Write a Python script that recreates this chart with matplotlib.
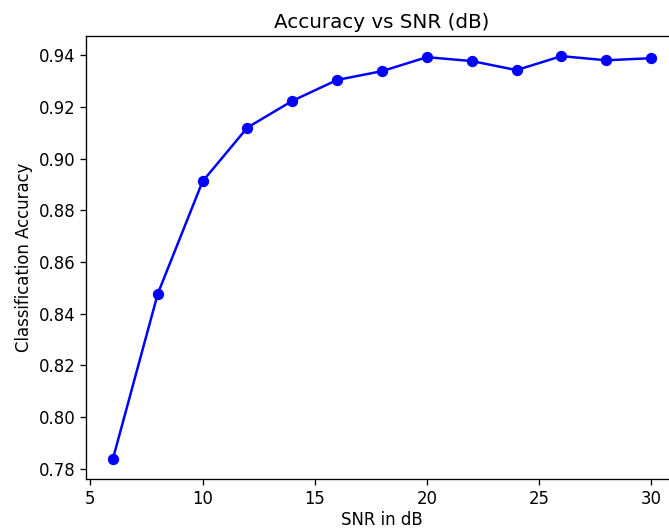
import matplotlib
matplotlib.use("Agg")
import matplotlib.pyplot as plt

snr = [6, 8, 10, 12, 14, 16, 18, 20, 22, 24, 26, 28, 30]
accuracy = [0.7839, 0.8477, 0.8912, 0.9120, 0.9223, 0.9304, 0.9338,
            0.9392, 0.9377, 0.9342, 0.9396, 0.9380, 0.9388]

s = 1.19  # scale of the original render
plt.rcParams['font.size'] = 10 * s

fig = plt.figure(figsize=(6.69, 5.29), dpi=100)
ax = fig.add_axes([86 / 669, 50 / 529, 592 / 669, 443 / 529])

ax.plot(snr, accuracy, marker='o', color='b', linewidth=1.5 * s, markersize=6 * s)
ax.set_title('Accuracy vs SNR (dB)', fontsize=12 * s)
ax.set_xlabel('SNR in dB', labelpad=2.5)
ax.set_ylabel('Classification Accuracy')
for sp in ax.spines.values():
    sp.set_linewidth(0.8 * s)
ax.tick_params(width=0.8 * s, length=3.5 * s)

fig.savefig('out.png', dpi=100)
